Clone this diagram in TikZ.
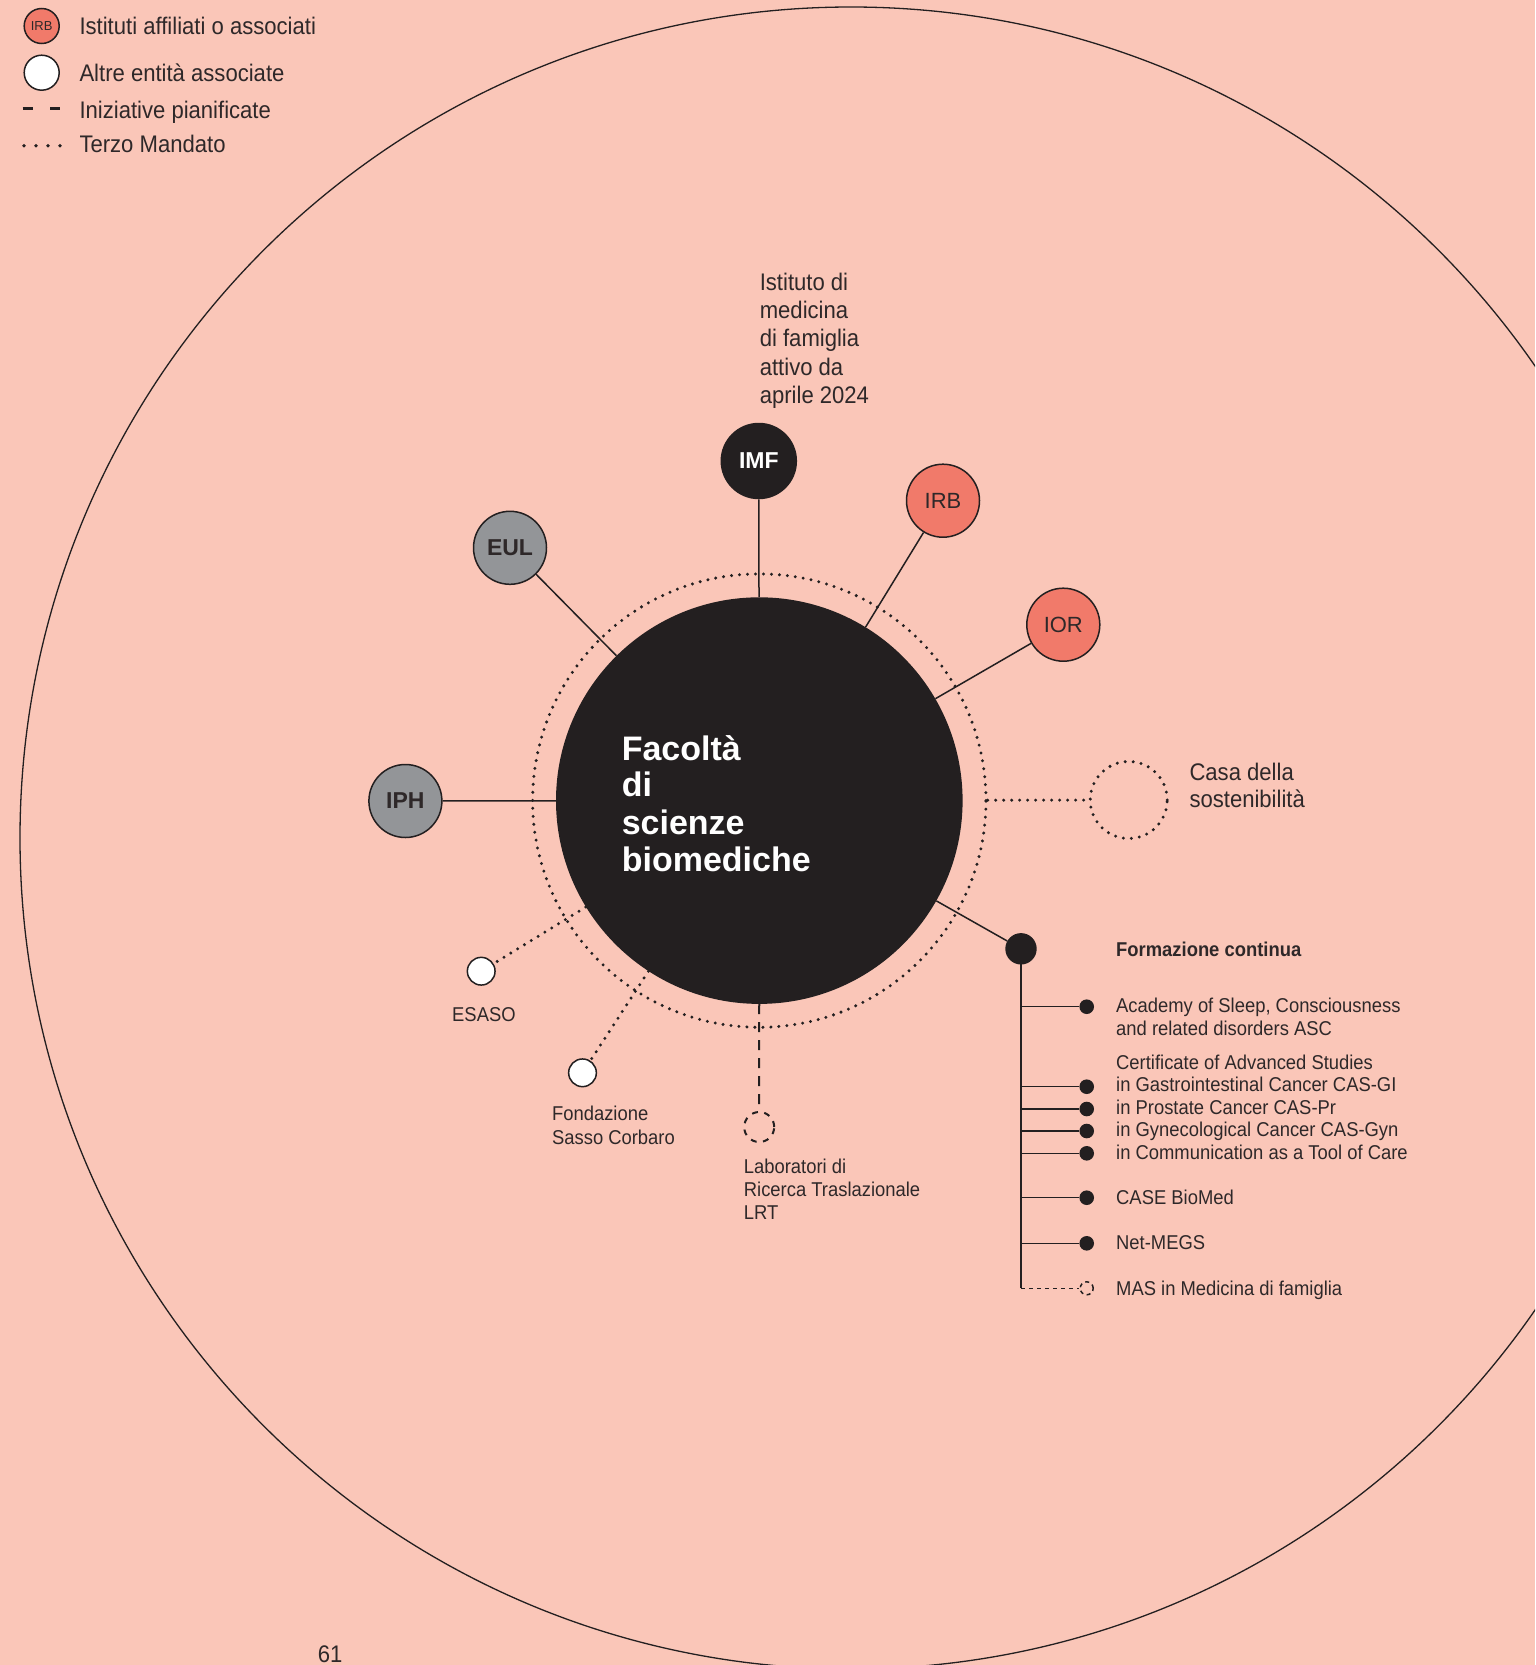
\documentclass[tikz,border=0pt]{standalone}
\usepackage{fontspec}
\setmainfont{Liberation Sans}[FakeStretch=0.92]
\newfontfamily\plainsans{Liberation Sans}
\definecolor{bgc}{HTML}{FAC6B8}
\definecolor{ink}{HTML}{231F20}
\definecolor{txtc}{HTML}{2E2829}
\definecolor{salm}{HTML}{F17A6A}
\definecolor{grayn}{HTML}{939598}
\begin{document}
\begin{tikzpicture}[x=1pt,y=-1pt,
  txt/.style={anchor=base west, inner sep=0pt, text=txtc, font=\fontsize{24}{28}\selectfont},
  smalltxt/.style={anchor=base west, inner sep=0pt, text=txtc, font=\fontsize{20}{23}\selectfont},
  titletxt/.style={anchor=base west, inner sep=0pt, text=white, font=\plainsans\bfseries\fontsize{34}{38}\selectfont},
  sat/.style={circle, draw=ink, line width=1.5pt, minimum size=73pt, inner sep=0pt, text=txtc, font=\plainsans\fontsize{22}{22}\selectfont},
  satbold/.style={sat, font=\plainsans\bfseries\fontsize{23}{23}\selectfont},
  whitedot/.style={circle, draw=ink, line width=1.5pt, fill=white, minimum size=27.7pt, inner sep=0pt},
  listdot/.style={circle, fill=ink, minimum size=14.6pt, inner sep=0pt},
  conn/.style={draw=ink, line width=1.5pt},
  dotline/.style={draw=ink, line width=3.3pt, line cap=round, dash pattern=on 0pt off 8pt},
  dashline/.style={draw=ink, line width=2pt, dash pattern=on 10pt off 8pt},
]
\useasboundingbox (0,0) rectangle (1535,1665);
\clip (0,0) rectangle (1535,1665);
\fill[bgc] (0,0) rectangle (1535,1665);
% outer circle
\draw[ink, line width=1.3pt] (851,838) circle[radius=831];

% legend
\node[circle, draw=ink, line width=1.5pt, fill=salm, minimum size=35pt, inner sep=0pt, text=txtc, font=\plainsans\fontsize{13}{13}\selectfont] (legirb) at (41.7,26) {IRB};
\node[txt] (legt1) at (79.3,34) {Istituti affiliati o associati};
\node[circle, draw=ink, line width=1.5pt, fill=white, minimum size=35pt, inner sep=0pt] (legwhite) at (41.7,72.7) {};
\node[txt] (legt2) at (79.3,81.7) {Altre entità associate};
\coordinate (legda) at (22.7,108.3);
\coordinate (legdb) at (60,108.3);
\draw[draw=ink, line width=2.5pt, dash pattern=on 10pt off 17.3pt] (legda) -- (legdb);
\node[txt] (legt3) at (79.3,118.3) {Iniziative pianificate};
\coordinate (legpa) at (24,145.7);
\coordinate (legpb) at (60.5,145.7);
\draw[draw=ink, line width=3.6pt, line cap=round, dash pattern=on 0pt off 12pt] (legpa) -- (legpb);
\node[txt] (legt4) at (79.3,152.3) {Terzo Mandato};

% central circle and ring
\node[circle, fill=ink, minimum size=406.6pt, inner sep=0pt] (fac) at (759.3,800.6) {};
\node[circle, dotline, minimum size=453.4pt, inner sep=0pt] (ring) at (759.3,800.6) {};
\node[titletxt] (ft1) at (621.6,760) {Facoltà};
\node[titletxt] (ft2) at (621.6,796.7) {di};
\node[titletxt] (ft3) at (621.6,834) {scienze};
\node[titletxt] (ft4) at (621.6,871.7) {biomediche};

% satellites
\node[satbold, fill=ink, text=white, minimum size=75pt] (imf) at (758.8,461) {IMF};
\node[sat, fill=salm] (irb) at (943,500.7) {IRB};
\node[sat, fill=salm] (ior) at (1063.3,624.7) {IOR};
\node[satbold, fill=grayn] (eul) at (510,547.8) {EUL};
\node[satbold, fill=grayn] (iph) at (405.4,801) {IPH};

\draw[conn] (imf) -- (fac);
\draw[conn] (irb) -- (fac);
\draw[conn] (ior) -- (fac);
\draw[conn] (eul) -- (fac);
\draw[conn] (iph) -- (fac);

% IMF label
\node[txt] (imfl1) at (759.6,290) {Istituto di};
\node[txt] (imfl2) at (759.6,318.3) {medicina};
\node[txt] (imfl3) at (759.6,346.7) {di famiglia};
\node[txt] (imfl4) at (759.6,375) {attivo da};
\node[txt] (imfl5) at (759.6,403.3) {aprile 2024};

% Casa della sostenibilita
\node[circle, dotline, minimum size=77pt, inner sep=0pt] (casa) at (1128.7,800) {};
\draw[dotline] (ring) -- (casa);
\node[txt] (casal1) at (1189.3,780) {Casa della};
\node[txt] (casal2) at (1189.3,807.3) {sostenibilità};

% ESASO & Fondazione
\node[whitedot] (esaso) at (481.2,971.2) {};
\node[whitedot] (fsc) at (582.5,1072.8) {};
\draw[dotline] (fac) -- (esaso);
\draw[dotline] (fac) -- (fsc);
\node[smalltxt] (esasol) at (452,1021.7) {ESASO};
\node[smalltxt] (fscl1) at (551.9,1120.7) {Fondazione};
\node[smalltxt] (fscl2) at (551.9,1144) {Sasso Corbaro};

% LRT
\node[circle, draw=ink, line width=2pt, dash pattern=on 6pt off 6.4pt, minimum size=30pt, inner sep=0pt] (lrt) at (759.2,1127) {};
\draw[dashline] (fac) -- (lrt);
\node[smalltxt] (lrtl1) at (743.7,1173.3) {Laboratori di};
\node[smalltxt] (lrtl2) at (743.7,1196.7) {Ricerca Traslazionale};
\node[smalltxt] (lrtl3) at (743.7,1219.3) {LRT};

% Formazione continua
\node[circle, fill=ink, minimum size=31.4pt, inner sep=0pt] (form) at (1021,948.8) {};
\draw[conn] (fac) -- (form);
\node[smalltxt, font=\bfseries\fontsize{20}{23}\selectfont] (forml) at (1116,956.7) {Formazione continua};

\node[listdot] (d1) at (1086.7,1006.7) {};
\node[listdot] (d2) at (1086.7,1086.7) {};
\node[listdot] (d3) at (1086.7,1109) {};
\node[listdot] (d4) at (1086.7,1131) {};
\node[listdot] (d5) at (1086.7,1153.3) {};
\node[listdot] (d6) at (1086.7,1197.7) {};
\node[listdot] (d7) at (1086.7,1243.3) {};
\node[circle, draw=ink, line width=1.5pt, dash pattern=on 4pt off 3.6pt, minimum size=13pt, inner sep=0pt] (mas) at (1086.7,1288.3) {};

\draw[conn, line width=1.8pt] (form.center) -- (form.center |- mas);
\foreach \d in {d1,d2,d3,d4,d5,d6,d7}{
  \draw[conn] (form.center |- \d) -- (\d);
}
\draw[draw=ink, line width=1.5pt, dash pattern=on 4pt off 4pt] (form.center |- mas) -- (mas);

\node[smalltxt] (l1) at (1116,1012.3) {Academy of Sleep, Consciousness};
\node[smalltxt] (l2) at (1116,1035) {and related disorders ASC};
\node[smalltxt] (l3) at (1116,1069) {Certificate of Advanced Studies};
\node[smalltxt] (l4) at (1116,1091.7) {in Gastrointestinal Cancer CAS-GI};
\node[smalltxt] (l5) at (1116,1114) {in Prostate Cancer CAS-Pr};
\node[smalltxt] (l6) at (1116,1136.7) {in Gynecological Cancer CAS-Gyn};
\node[smalltxt] (l7) at (1116,1159.3) {in Communication as a Tool of Care};
\node[smalltxt] (l8) at (1116,1204.3) {CASE BioMed};
\node[smalltxt] (l9) at (1116,1249.3) {Net-MEGS};
\node[smalltxt] (l10) at (1116,1295) {MAS in Medicina di famiglia};

% page number
\node[txt] (pg) at (317.7,1662) {61};
\end{tikzpicture}
\end{document}
